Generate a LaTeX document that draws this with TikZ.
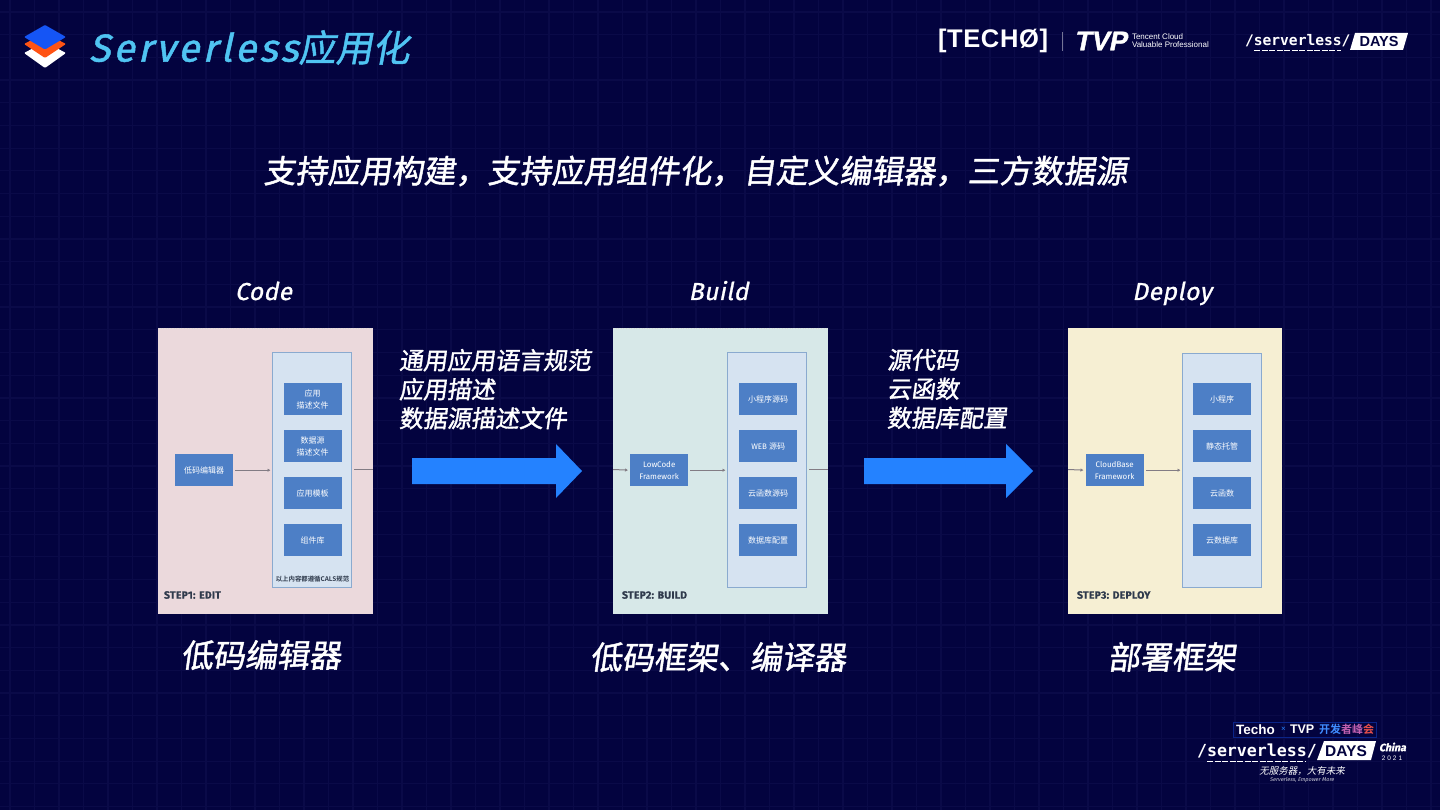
\documentclass[tikz,border=0pt]{standalone}
\usepackage{fontspec}
\usetikzlibrary{arrows.meta}
\setmainfont{Liberation Sans}
\newfontfamily\cjk{Noto Sans CJK SC}
\newfontfamily\cjkbd{Noto Sans CJK SC Bold}
\newfontfamily\cjks{Noto Sans CJK SC}[FakeSlant=0.14,FakeBold=1.4]
\newfontfamily\cjkt{Noto Sans CJK SC}[FakeSlant=0.18,FakeBold=1.2]
\newfontfamily\cjkl{Noto Sans CJK SC}[FakeSlant=0.2]
\newfontfamily\titlef{Fira Sans}[FakeSlant=0.22,LetterSpace=8,FakeBold=1.2]
\newfontfamily\headf{Fira Sans}[FakeSlant=0.2,LetterSpace=2,FakeBold=1]
\newfontfamily\smallf{Fira Sans}[FakeSlant=0.2]
\newfontfamily\chinaf{Fira Sans}[FakeSlant=0.2,FakeBold=1.5]
\newfontfamily\uif{Fira Sans}
\newfontfamily\stepf{Fira Sans}[LetterSpace=2,FakeBold=0.5]
\newfontfamily\monof{DejaVu Sans Mono}
\newfontfamily\logof{Liberation Sans}[LetterSpace=2.5]
\newfontfamily\tvpf{Liberation Sans Bold}[FakeSlant=0.2,FakeBold=1.5]
\definecolor{bg}{HTML}{03033F}
\definecolor{gridc}{HTML}{0A0A48}
\definecolor{titlec}{HTML}{50C4F2}
\definecolor{arrowc}{HTML}{2482FF}
\definecolor{panA}{HTML}{EBD9DC}
\definecolor{panB}{HTML}{D7E8E8}
\definecolor{panC}{HTML}{F6EFD3}
\definecolor{innerc}{HTML}{D6E3F1}
\definecolor{innerl}{HTML}{8AAACF}
\definecolor{boxc}{HTML}{4D7FC6}
\definecolor{linec}{HTML}{827C84}
\definecolor{stepc}{HTML}{2F3A4C}
\definecolor{iconb}{HTML}{1555F5}
\definecolor{icono}{HTML}{FF5314}
\definecolor{peakb}{HTML}{3F8CFF}
\definecolor{peakm}{HTML}{C060B0}
\definecolor{peakr}{HTML}{E8504A}
\tikzset{
  x=1pt,y=-1pt,
  txt/.style={inner sep=0pt,outer sep=0pt,text=white},
  headtxt/.style={txt,anchor=base,font=\headf\fontsize{24.5}{24.5}\selectfont},
  captxt/.style={txt,font=\cjks\fontsize{32}{32}\selectfont},
  flowtxt/.style={txt,anchor=north west,align=left,font=\cjks\fontsize{24}{29}\selectfont},
  panel/.style={inner sep=0pt,outer sep=0pt,anchor=north west,minimum width=#1},
  innerbox/.style={draw=innerl,line width=1pt,fill=innerc,inner sep=0pt,anchor=north west,minimum width=79pt,minimum height=234.5pt},
  bluebox/.style={fill=boxc,inner sep=0pt,anchor=north west,minimum width=58pt,minimum height=32pt,text=white,align=center,font=\cjk\fontsize{8}{11.8}\selectfont},
  link/.style={draw=linec,line width=1pt,-{Latex[length=3pt,width=3.5pt]}},
  stub/.style={draw=linec,line width=1pt},
  bigarrow/.style={fill=arrowc},
  steptxt/.style={txt,anchor=west,text=stepc,font=\stepf\bfseries\fontsize{10.5}{10.5}\selectfont},
  dotedge/.style={draw=white!70!gray,line width=0.6pt,dotted},
}
\begin{document}
\begin{tikzpicture}
\useasboundingbox (0,0) rectangle (1440,810);
\fill[bg] (0,0) rectangle (1440,810);
\foreach \i in {0,...,58} {\draw[gridc,line width=1.2pt] ({10+\i*24.5},0) -- ({10+\i*24.5},810);}
\foreach \j in {0,...,35} {\draw[gridc,line width=1.2pt] (0,{12+\j*22.7}) -- (1440,{12+\j*22.7});}

% top-left icon
\fill[white,rounded corners=1pt] (45,42) -- (66,53) -- (45,68) -- (24,53) -- cycle;
\fill[icono,rounded corners=1pt] (45,33) -- (66,44) -- (45,58) -- (24,44) -- cycle;
\fill[iconb,rounded corners=1pt] (45,25) -- (66,37) -- (45,49.5) -- (24,37) -- cycle;

% title
\node[txt,anchor=west,text=titlec] (title) at (89,47.5) {\titlef\fontsize{39}{39}\selectfont Serverless\cjkt\fontsize{37}{37}\selectfont 应用化};

% subtitle
\node[txt] (sub) at (695.5,171) {\cjks\fontsize{32}{32}\selectfont 支持应用构建，支持应用组件化，自定义编辑器，三方数据源};

% headers
\node[headtxt] (hA) at (263.5,300) {Code};
\node[headtxt] (hB) at (718.5,300) {Build};
\node[headtxt] (hC) at (1172,300) {Deploy};

% panels
\node[panel=215pt,fill=panA,minimum height=286pt] (pA) at (158,328) {};
\node[panel=215pt,fill=panB,minimum height=286pt] (pB) at (613,328) {};
\node[panel=214pt,fill=panC,minimum height=286pt] (pC) at (1068,328) {};
\draw[dotedge] (pA.north west) -- (pA.north east);
\draw[dotedge] (pB.north west) -- (pB.north east);

% inner containers
\node[innerbox] (iA) at (272,352) {};
\node[innerbox] (iB) at (727,352) {};
\node[innerbox] (iC) at (1182,352.5) {};

% panel A
\node[bluebox] (a0) at (175,454) {低码编辑器};
\node[bluebox] (a1) at (283.5,383) {应用\\描述文件};
\node[bluebox] (a2) at (283.5,430) {数据源\\描述文件};
\node[bluebox] (a3) at (283.5,477) {应用模板};
\node[bluebox] (a4) at (283.5,524) {组件库};
\node[txt,text=stepc,font=\cjkbd\fontsize{6.4}{6.4}\selectfont] (aN) at (312.5,579) {以上内容都遵循CALS规范};
\node[steptxt] (aS) at (164,595) {STEP1: EDIT};

% panel B
\node[bluebox] (b0) at (630,454) {\uif LowCode\\\uif Framework};
\node[bluebox] (b1) at (739,383) {小程序源码};
\node[bluebox] (b2) at (739,430) {\uif WEB \cjk 源码};
\node[bluebox] (b3) at (739,477) {云函数源码};
\node[bluebox] (b4) at (739,524) {数据库配置};
\node[steptxt] (bS) at (622,595) {STEP2: BUILD};

% panel C
\node[bluebox] (c0) at (1085.5,454) {\uif CloudBase\\\uif Framework};
\node[bluebox] (c1) at (1193,383) {小程序};
\node[bluebox] (c2) at (1193,430) {静态托管};
\node[bluebox] (c3) at (1193,477) {云函数};
\node[bluebox] (c4) at (1193,524) {云数据库};
\node[steptxt] (cS) at (1077,595) {STEP3: DEPLOY};

% connectors
\coordinate (aOut) at (373,469.5);
\coordinate (bIn) at (613,469.5);
\coordinate (bOut) at (828,469.5);
\coordinate (cIn) at (1068,469.5);
\draw[link,shorten <=2pt,shorten >=1.5pt] (a0.east) -- (a0.east -| iA.west);
\draw[stub,shorten <=2pt] (iA.east |- aOut) -- (aOut);
\draw[link,shorten >=2pt] (bIn) -- (b0.west);
\draw[link,shorten <=2pt,shorten >=1.5pt] (b0.east) -- (b0.east -| iB.west);
\draw[stub,shorten <=2pt] (iB.east |- bOut) -- (bOut);
\draw[link,shorten >=2pt] (cIn) -- (c0.west);
\draw[link,shorten <=2pt,shorten >=1.5pt] (c0.east) -- (c0.east -| iC.west);

% big arrows
\fill[bigarrow] (412,458) -- (556,458) -- (556,444) -- (582,471) -- (556,498) -- (556,484) -- (412,484) -- cycle;
\fill[bigarrow] (864,458) -- (1006,458) -- (1006,444) -- (1033,471) -- (1006,498) -- (1006,484) -- (864,484) -- cycle;

% flow labels
\node[flowtxt] (fA) at (399,349) {通用应用语言规范\\应用描述\\数据源描述文件};
\node[flowtxt] (fB) at (887,349) {源代码\\云函数\\数据库配置};

% captions
\node[captxt] (cA) at (261,655) {低码编辑器};
\node[captxt] (cB) at (718,657) {低码框架、编译器};
\node[captxt] (cC) at (1172,657) {部署框架};

% top-right logos
\node[txt,anchor=west] (lg1) at (938,41) {\logof\bfseries\fontsize{25.5}{25.5}\selectfont [TECH\O]};
\draw[white!45!bg,line width=0.8pt] (1062,32) -- (1062,51);
\node[txt,anchor=west] (lg2) at (1074,41) {\tvpf\fontsize{27}{27}\selectfont TVP};
\node[txt,anchor=west,align=left,font=\fontsize{8}{7.4}\selectfont] (lg3) at (1132,40.5) {Tencent Cloud\\Valuable Professional};
\node[txt,anchor=west] (lg4) at (1245,41) {\monof\bfseries\fontsize{14.6}{14.6}\selectfont /serverless/};
\draw[white,line width=0.7pt,dash pattern=on 6pt off 1.5pt] (1254,50) -- (1341,50);
\fill[white] (1355,33) -- (1408,33) -- (1403,50) -- (1350,50) -- cycle;
\node[txt,text=bg] (lg5) at (1379,41.5) {\bfseries\fontsize{14.5}{14.5}\selectfont DAYS};

% bottom-right logo
\draw[iconb!40!bg,line width=0.5pt] (1233,722) rectangle (1376,737);
\node[txt,anchor=west] (br1) at (1236,729.5) {\bfseries\fontsize{13.5}{13.5}\selectfont Techo};
\node[txt,text=arrowc] (br2) at (1283.5,729.5) {\fontsize{8}{8}\selectfont ×};
\node[txt,anchor=west] (br3) at (1290,729.5) {\bfseries\fontsize{12.5}{12.5}\selectfont TVP};
\node[txt,anchor=west] (br4) at (1319,729.5) {\cjkbd\fontsize{11}{11}\selectfont\textcolor{peakb}{开发}\textcolor{peakm}{者峰}\textcolor{peakr}{会}};
\node[txt,anchor=west] (br5) at (1197,751) {\monof\bfseries\fontsize{16.6}{16.6}\selectfont /serverless/};
\draw[white,line width=0.7pt,dash pattern=on 6pt off 1.5pt] (1207,761) -- (1306,761);
\fill[white] (1324,741) -- (1376,741) -- (1371,760) -- (1317,760) -- cycle;
\node[txt,text=bg] (br6) at (1346,751) {\bfseries\fontsize{15.5}{15.5}\selectfont DAYS};
\node[txt] (br7) at (1392.5,747) {\chinaf\bfseries\fontsize{10.5}{10.5}\selectfont China};
\node[txt] (br8) at (1392,758) {\logof\fontsize{6.5}{6.5}\selectfont 2 0 2 1};
\node[txt] (br9) at (1302,771.5) {\cjkl\fontsize{9.5}{9.5}\selectfont 无服务器，大有未来};
\node[txt,text=white!80!bg] (br10) at (1302,780.5) {\smallf\fontsize{5.4}{5.4}\selectfont Serverless, Empower More};
\end{tikzpicture}
\end{document}
